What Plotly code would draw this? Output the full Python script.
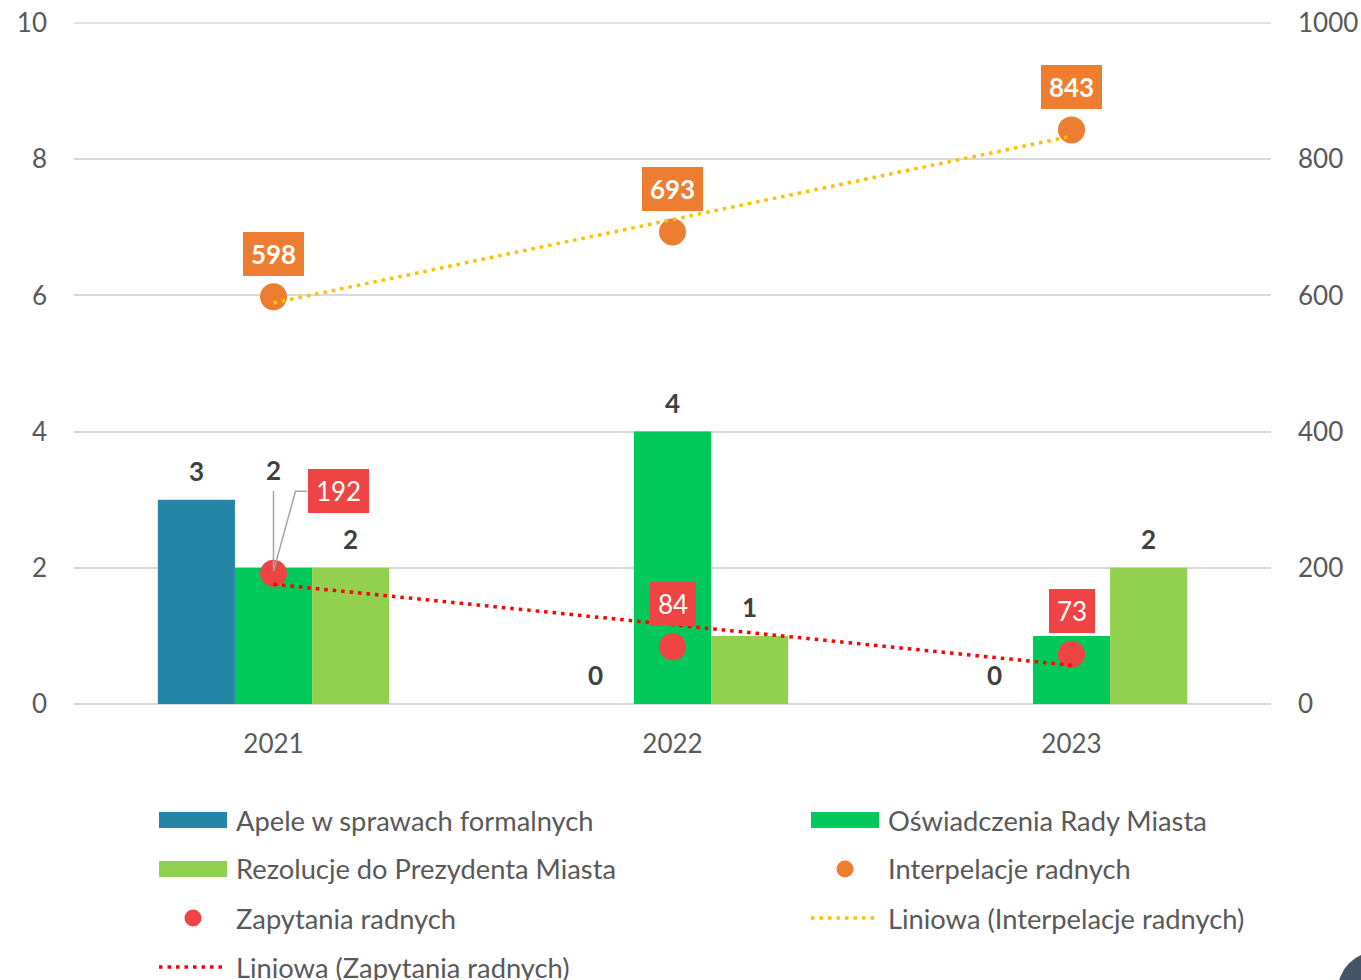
import numpy as np
import plotly.graph_objects as go

# ---------------- data ----------------
years = ["2021", "2022", "2023"]
apele = [3, 0, 0]
oswiadczenia = [2, 4, 1]
rezolucje = [2, 1, 2]
interpelacje = [598, 693, 843]
zapytania = [192, 84, 73]

bar_names = ["Apele w sprawach formalnych", "Oświadczenia Rady Miasta", "Rezolucje do Prezydenta Miasta"]
bar_values = [apele, oswiadczenia, rezolucje]
bar_colors = ["#2585A6", "#00C85A", "#92D050"]

ORANGE = "#ED7D31"
RED = "#EF4444"
TXT = "#595959"
LBL = "#404040"
GRID = "#D9D9D9"
FONT = "Lato"

W, H = 1361, 980
L, T = 74, 23
PW, PH = 1197, 681
R, B = W - L - PW, H - T - PH
BARGAP = 0.42
YMAX, Y2MAX = 10, 1000

def px2x(px):
    return (px - L) / PW

def px2y(py):
    return (T + PH - py) / PH

xs = np.arange(len(years))

fig = go.Figure()

for name, vals, col in zip(bar_names, bar_values, bar_colors):
    fig.add_trace(go.Bar(x=xs, y=vals, name=name, marker=dict(color=col, line=dict(width=0)),
                         showlegend=False))

fig.add_trace(go.Scatter(x=xs, y=interpelacje, yaxis="y2", mode="markers", name="Interpelacje radnych",
                         marker=dict(color=ORANGE, size=27), showlegend=False))
fig.add_trace(go.Scatter(x=xs, y=zapytania, yaxis="y2", mode="markers", name="Zapytania radnych",
                         marker=dict(color=RED, size=27), showlegend=False))

# linear trendlines (least squares fit of the series, like Excel "Liniowa")
for series, col in [(interpelacje, "#FFC000"), (zapytania, "#FF0000")]:
    a, b = np.polyfit(xs, series, 1)
    fig.add_trace(go.Scatter(x=[xs[0], xs[-1]], y=[b + a * xs[0], b + a * xs[-1]], yaxis="y2",
                             mode="lines", line=dict(color=col, width=3.5, dash="3.5px,5px"),
                             showlegend=False, hoverinfo="skip"))

annotations = []
shapes = []

# top gridline (plotly clips gridlines at the range edge)
shapes.append(dict(type="line", xref="paper", yref="paper", x0=0, x1=1, y0=1, y1=1,
                   line=dict(color=GRID, width=1.5), layer="below"))

# bar value labels (the 2023 "Oświadczenia" label is hidden behind the 73 box in the original)
bw = (1 - BARGAP) / len(bar_values)
for k, vals in enumerate(bar_values):
    for i, v in enumerate(vals):
        if k == 1 and i == 2:
            continue
        ys = 29
        if k == 1 and i == 0:
            ys = 98  # label moved up manually with leader line
        annotations.append(dict(x=i + (k - 1) * bw, y=v, xref="x", yref="y", text=f"<b>{v}</b>",
                                showarrow=False, yshift=ys, yanchor="middle",
                                font=dict(family=FONT, size=26, color=LBL)))

# leader line for the "2" label of Oświadczenia 2021
shapes.append(dict(type="line", xref="x", yref="y", xsizemode="pixel", ysizemode="pixel",
                   xanchor=0, yanchor=oswiadczenia[0], x0=0, x1=0, y0=0, y1=77,
                   line=dict(color="#A6A6A6", width=1.5)))

# point labels (boxed)
for i, v in enumerate(interpelacje):
    annotations.append(dict(x=i, y=v, xref="x", yref="y2", text=f"<b>{v}</b>", showarrow=False,
                            yshift=43, bgcolor=ORANGE, width=61, height=44, borderpad=0, borderwidth=0,
                            font=dict(family=FONT, size=26, color="white")))
for i, v in enumerate(zapytania):
    xsft, ysft, wd = 0, 43, 46
    if i == 0:
        xsft, ysft, wd = 64.5, 82, 61
    annotations.append(dict(x=i, y=v, xref="x", yref="y2", text=f"{v}", showarrow=False,
                            xshift=xsft, yshift=ysft, bgcolor=RED, width=wd, height=44,
                            borderpad=0, borderwidth=0,
                            font=dict(family=FONT, size=26, color="white")))

# leader line for the 192 label
shapes.append(dict(type="path", xref="x", yref="y2", xsizemode="pixel", ysizemode="pixel",
                   xanchor=0, yanchor=zapytania[0], path="M0,2 L22,82 L34,82",
                   line=dict(color="#A6A6A6", width=1.5)))

# ---------------- manual legend ----------------
col1_sym, col2_sym = 159, 811
col1_txt, col2_txt = 234, 886
rows = [820, 869, 918, 967]
LEG_SIZE = 27.3

def legend_text(px, py, text):
    annotations.append(dict(x=px2x(px), y=px2y(py), xref="paper", yref="paper", text=text,
                            showarrow=False, xanchor="left", yanchor="middle",
                            font=dict(family=FONT, size=LEG_SIZE, color=TXT)))

def legend_rect(px, py, col):
    shapes.append(dict(type="rect", xref="paper", yref="paper", x0=px2x(px), x1=px2x(px + 68),
                       y0=px2y(py - 8), y1=px2y(py + 8), fillcolor=col, line=dict(width=0)))

def legend_dot(cx, cy, col):
    shapes.append(dict(type="circle", xref="paper", yref="paper", x0=px2x(cx - 8.5), x1=px2x(cx + 8.5),
                       y0=px2y(cy - 8.5), y1=px2y(cy + 8.5), fillcolor=col, line=dict(width=0)))

def legend_line(px, py, col):
    shapes.append(dict(type="line", xref="paper", yref="paper", x0=px2x(px), x1=px2x(px + 64),
                       y0=px2y(py), y1=px2y(py), line=dict(color=col, width=3.5, dash="3.5px,5px")))

legend_rect(col1_sym, rows[0], bar_colors[0]); legend_text(col1_txt, rows[0], bar_names[0])
legend_rect(col2_sym, rows[0], bar_colors[1]); legend_text(col2_txt, rows[0], bar_names[1])
legend_rect(col1_sym, rows[1], bar_colors[2]); legend_text(col1_txt, rows[1], bar_names[2])
legend_dot(845, rows[1], ORANGE); legend_text(col2_txt, rows[1], "Interpelacje radnych")
legend_dot(193, rows[2], RED); legend_text(col1_txt, rows[2], "Zapytania radnych")
legend_line(col2_sym, rows[2], "#FFC000"); legend_text(col2_txt, rows[2], "Liniowa (Interpelacje radnych)")
legend_line(col1_sym, rows[3], "#FF0000"); legend_text(col1_txt, rows[3], "Liniowa (Zapytania radnych)")

# page decoration in the bottom-right corner
shapes.append(dict(type="circle", xref="paper", yref="paper", x0=px2x(1338), x1=px2x(1414),
                   y0=px2y(1028), y1=px2y(952), fillcolor="#44546A", line=dict(width=0)))

fig.update_layout(
    width=W, height=H,
    margin=dict(l=L, r=R, t=T, b=B, autoexpand=False),
    paper_bgcolor="white", plot_bgcolor="white",
    barmode="group", bargap=BARGAP, bargroupgap=0,
    font=dict(family=FONT, size=26, color=TXT),
    showlegend=False,
    xaxis=dict(range=[-0.5, len(years) - 0.5], tickvals=list(xs), ticktext=years, showgrid=False,
               zeroline=False, showline=False, ticks="", ticklabelstandoff=22,
               tickfont=dict(family=FONT, size=26, color=TXT)),
    yaxis=dict(range=[0, YMAX], dtick=2, gridcolor=GRID, gridwidth=1.5, zeroline=True,
               zerolinecolor=GRID, zerolinewidth=1.5, showline=False, ticks="",
               ticklabelstandoff=26, ticklabeloverflow="allow",
               tickfont=dict(family=FONT, size=26, color=TXT)),
    yaxis2=dict(range=[0, Y2MAX], dtick=200, overlaying="y", side="right", showgrid=False,
                zeroline=False, showline=False, ticks="", ticklabelstandoff=26,
                ticklabeloverflow="allow",
                tickfont=dict(family=FONT, size=26, color=TXT)),
    annotations=annotations,
    shapes=shapes,
)

fig.write_html("out.html", config={"displayModeBar": False},
               post_script="document.body.style.margin='0';document.body.style.overflow='hidden';")
